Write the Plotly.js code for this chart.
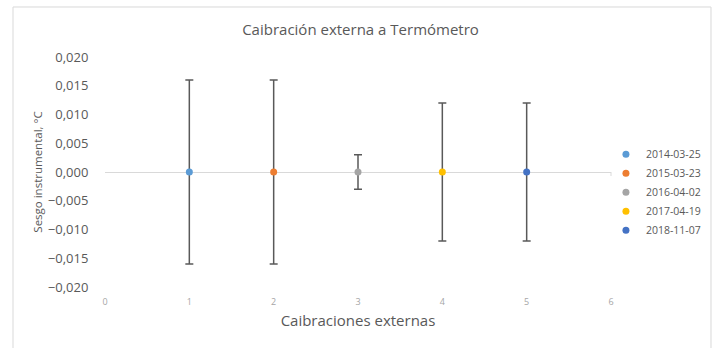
<!DOCTYPE html>
<html>
<head>
<meta charset="utf-8">
<script src="https://cdn.plot.ly/plotly-3.0.1.min.js"></script>
<style>html,body{margin:0;padding:0;background:#fff;}#chart{width:717px;height:348px;}</style>
</head>
<body>
<div id="chart"></div>
<script>
const seriesNames = ["2014-03-25", "2015-03-23", "2016-04-02", "2017-04-19", "2018-11-07"];
const xValues = [1, 2, 3, 4, 5];
const biasValues = [0, 0, 0, 0, 0];
const uncertainty = [0.016, 0.016, 0.003, 0.012, 0.012];
const colors = ["#5B9BD5", "#ED7D31", "#A5A5A5", "#FFC000", "#4472C4"];
const xTicks = [0, 1, 2, 3, 4, 5, 6];
const yTicks = [-0.020, -0.015, -0.010, -0.005, 0, 0.005, 0.010, 0.015, 0.020];

const FONT = "Open Sans, Liberation Sans, sans-serif";

const traces = seriesNames.map((name, i) => ({
  type: "scatter",
  mode: "markers",
  name: name,
  x: [xValues[i]],
  y: [biasValues[i]],
  marker: {color: colors[i], size: 7},
  error_y: {type: "data", array: [uncertainty[i]], visible: true, color: "#595959", thickness: 1.5, width: 4}
}));

const layout = {
  width: 717, height: 348,
  margin: {l: 105, r: 106, t: 57, b: 61, autoexpand: false},
  paper_bgcolor: "#fff", plot_bgcolor: "#fff",
  separators: ",.",
  font: {family: FONT, color: "#595959"},
  title: {text: "Caibración externa a Termómetro", font: {size: 15, color: "#595959", family: FONT}, x: 0.505, xref: "paper", y: 0.93, yref: "container"},
  xaxis: {
    range: [0, 6], tickvals: xTicks, ticktext: xTicks.map(String),
    showgrid: false, zeroline: false, showline: false,
    ticks: "outside", ticklen: 6, tickcolor: "rgba(0,0,0,0)",
    tickfont: {size: 9, color: "#a6a6a6", family: FONT},
    title: {text: "Caibraciones externas", font: {size: 15, color: "#595959", family: FONT}, standoff: 8},
    fixedrange: true
  },
  yaxis: {
    range: [-0.020, 0.020], tickvals: yTicks, tickformat: ".3f",
    showgrid: false, zeroline: true, zerolinecolor: "#d9d9d9", zerolinewidth: 1, showline: false,
    ticks: "outside", ticklen: 13, tickcolor: "rgba(0,0,0,0)",
    tickfont: {size: 13, color: "#595959", family: FONT},
    title: {text: "Sesgo instrumental, °C", font: {size: 11.5, color: "#595959", family: FONT}, standoff: 2},
    fixedrange: true
  },
  showlegend: true,
  legend: {x: 0.99, y: 0.64, xanchor: "left", yanchor: "top", font: {size: 10.5, color: "#595959", family: FONT}, itemwidth: 30, tracegroupgap: 0, bgcolor: "rgba(0,0,0,0)"},
  shapes: [
    {type: "rect", xref: "paper", yref: "paper", x0: -0.1818, x1: 1.1976, y0: -0.3, y1: 1.2174, line: {color: "#d9d9d9", width: 1}, fillcolor: "rgba(0,0,0,0)", layer: "below"},
    {type: "line", xref: "paper", yref: "y", x0: 1, x1: 1, y0: 0, y1: -0.0007, line: {color: "#d9d9d9", width: 1}}
  ]
};

Plotly.newPlot("chart", traces, layout, {displayModeBar: false, staticPlot: true});
</script>
</body>
</html>
